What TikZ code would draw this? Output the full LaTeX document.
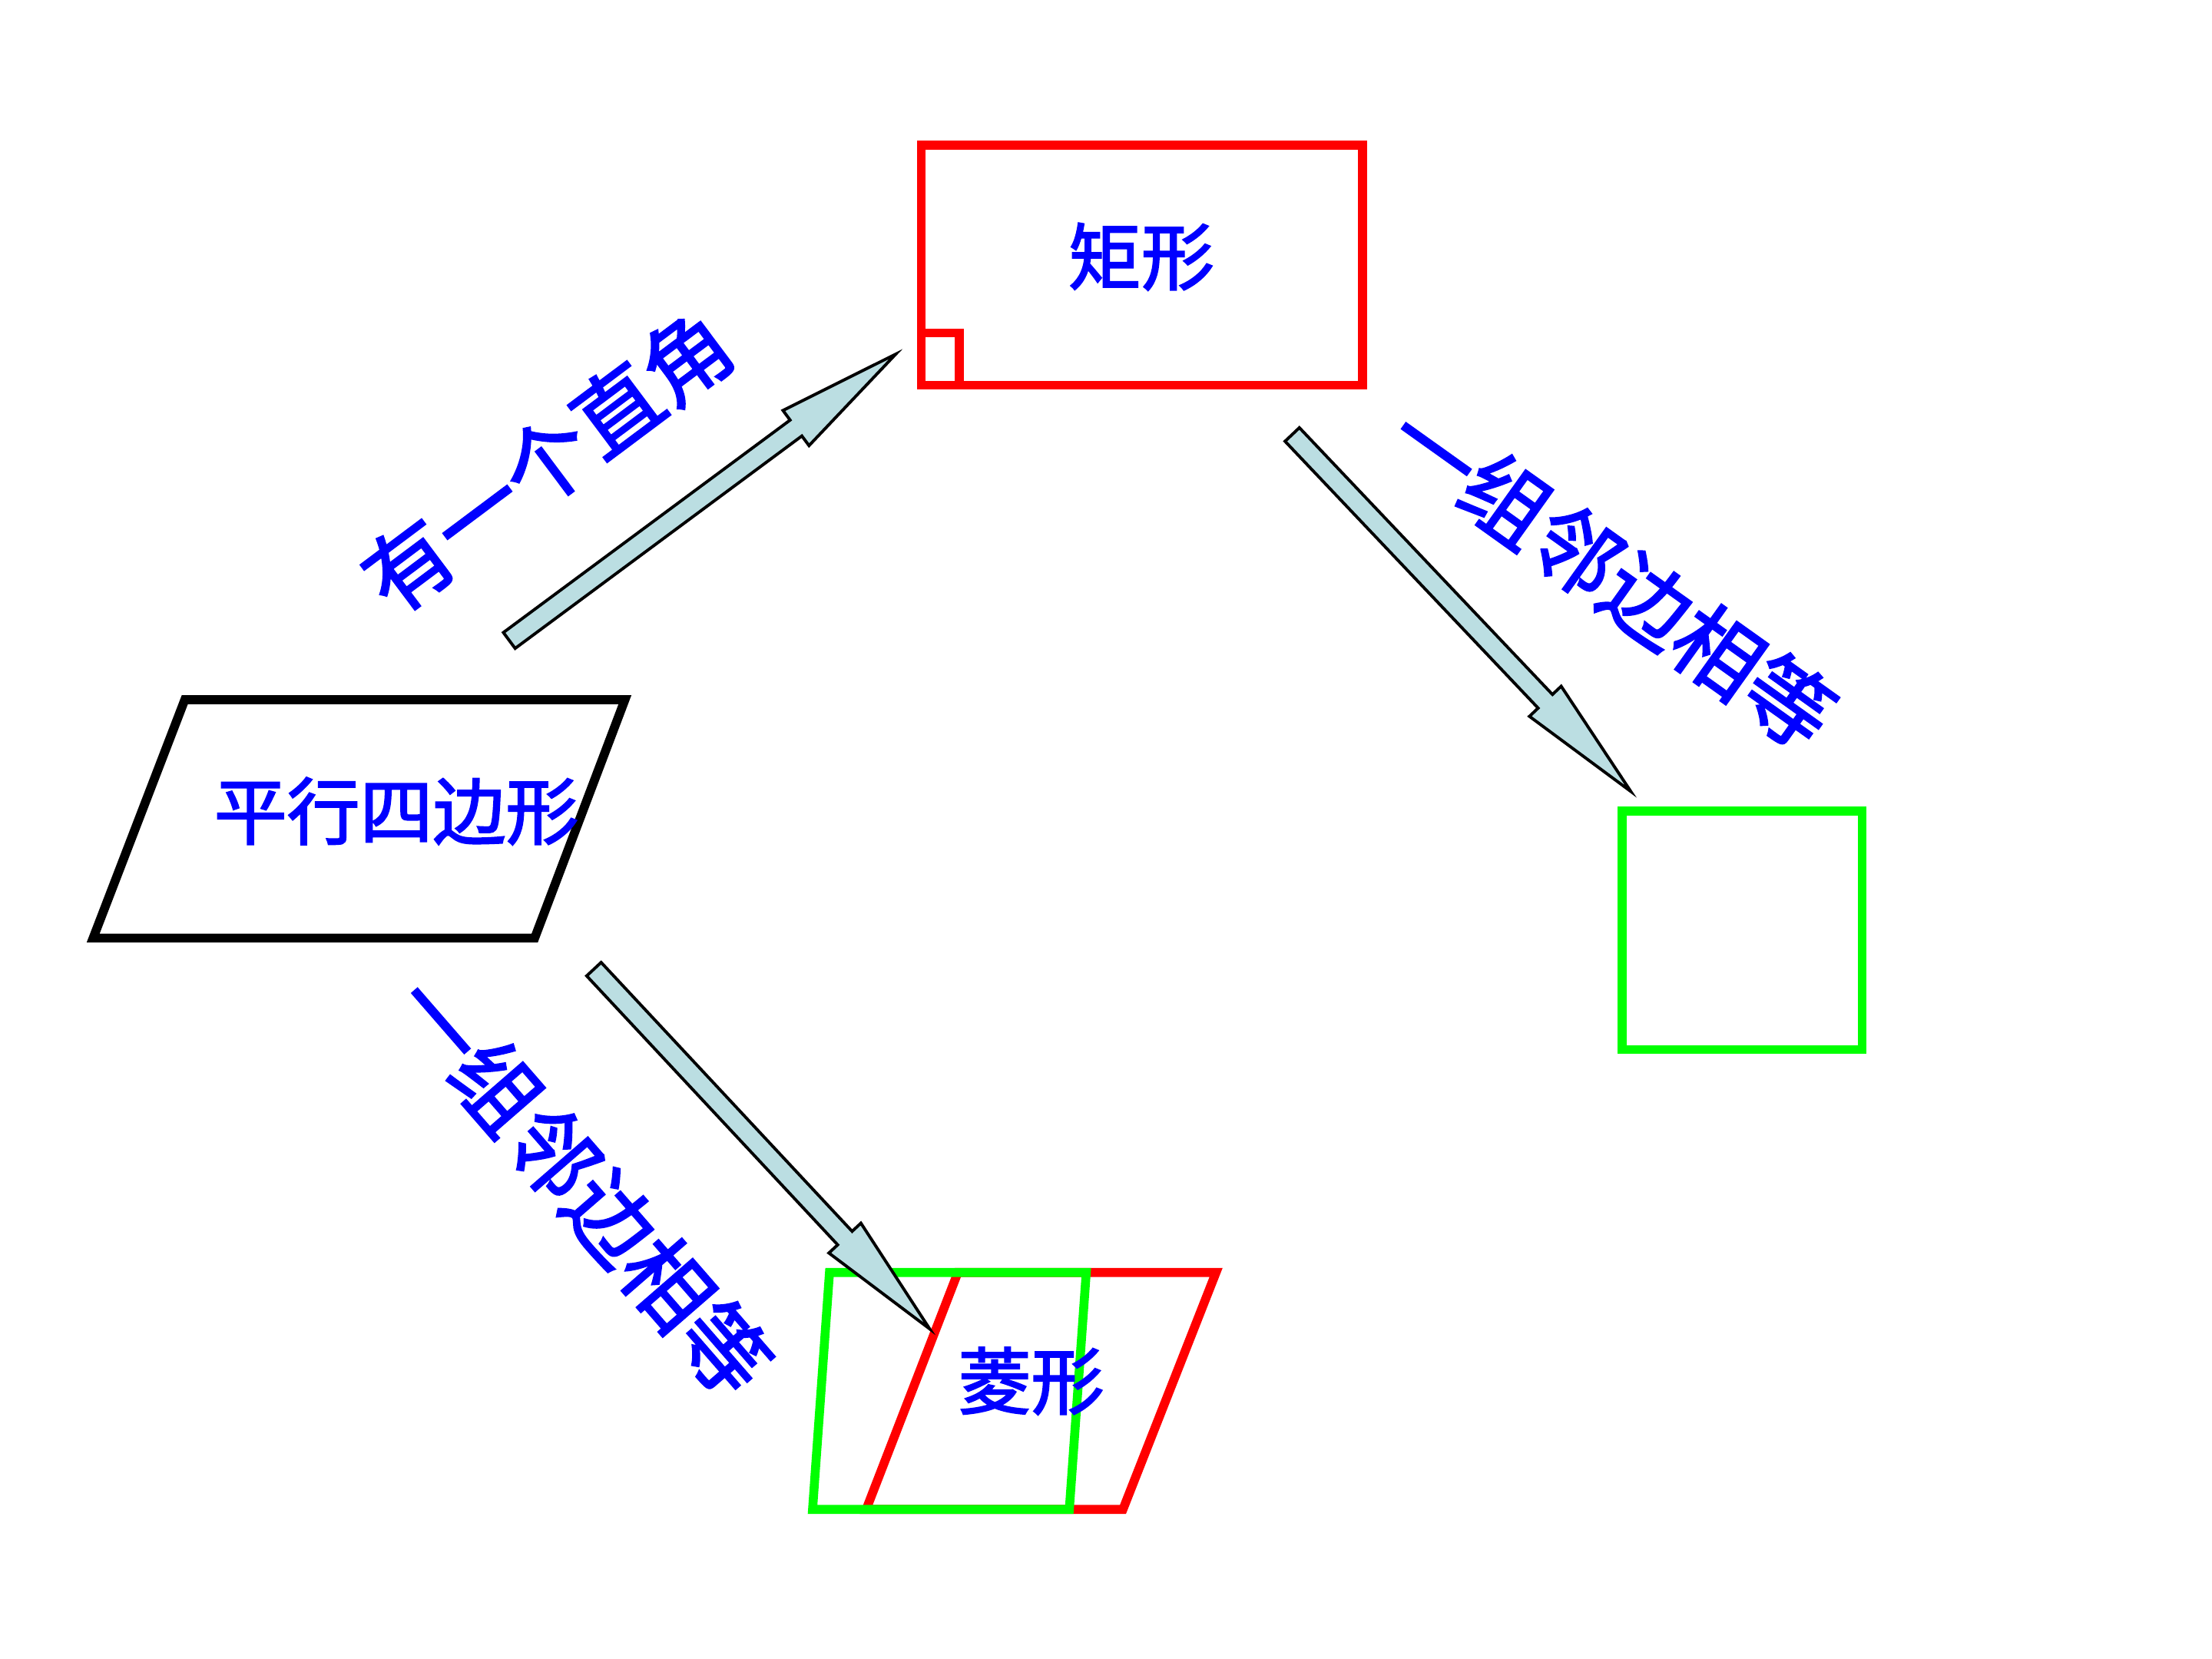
\documentclass[tikz,border=0pt]{standalone}
\usepackage{fontspec}
\usepackage{tikz}
\usetikzlibrary{calc}
\newfontfamily\cjk[FakeBold=2.2]{Noto Sans CJK SC}
\definecolor{shapeRed}{RGB}{255,0,0}
\definecolor{shapeGreen}{RGB}{0,255,0}
\definecolor{labelBlue}{RGB}{0,0,255}
\definecolor{arrowFill}{RGB}{187,222,226}

% block arrow from tail (#1) to tip (#2)
\newcommand{\blockarrow}[2]{%
  \coordinate (neck) at ($(#2)!0.88cm!(#1)$);
  \draw[bigarrow] ($(#1)!0.07cm!90:(#2)$) -- ($(neck)!0.07cm!90:(#2)$) -- ($(neck)!0.155cm!90:(#2)$) -- (#2)
    -- ($(neck)!0.155cm!-90:(#2)$) -- ($(neck)!0.07cm!-90:(#2)$) -- ($(#1)!0.07cm!-90:(#2)$) -- cycle;
}

\begin{document}
\begin{tikzpicture}[x=0.01cm, y=-0.01cm,
  outline/.style={line width=1.8pt, line join=miter},
  bigarrow/.style={draw=black, line width=0.6pt, fill=arrowFill, line join=miter},
  shapetext/.style={font=\cjk\fontsize{14.7}{16}\selectfont, text=labelBlue, inner sep=0pt},
  ruletext/.style={font=\cjk\fontsize{17.5}{20}\selectfont, text=labelBlue, inner sep=0pt}
]
\useasboundingbox (0,0) rectangle (1568,1176);

% 平行四边形
\draw[outline, draw=black] (131,496) -- (443,496) -- (379,665) -- (66,665) -- cycle;
\node[shapetext] (pgram) at (281,575) {平行四边形};

% 矩形
\draw[outline, draw=shapeRed] (653,103) rectangle (966,273);
\draw[outline, draw=shapeRed] (653,236) -| (680,273);
\node[shapetext] (rect) at (809,182) {矩形};

% 正方形
\draw[outline, draw=shapeGreen] (1150,575) rectangle (1320,744);

% 菱形
\draw[outline, draw=shapeRed] (679,902) -- (862,902) -- (796,1070) -- (614,1070) -- cycle;
\draw[outline, draw=shapeGreen] (588,902) -- (770,902) -- (758,1070) -- (576,1070) -- cycle;
\node[shapetext] (rhomb) at (731,979) {菱形};

\coordinate (up-tail) at (361,454);
\coordinate (up-tip) at (635,251);
\coordinate (right-tail) at (916,308);
\coordinate (right-tip) at (1156,561);
\coordinate (down-tail) at (421,687);
\coordinate (down-tip) at (659,942);
\foreach \a/\b in {up-tail/up-tip, right-tail/right-tip, down-tail/down-tip}
  \blockarrow{\a}{\b};

\node[ruletext, rotate=36.8] (rightangle) at (388,327) {有一个直角};
\node[ruletext, rotate=-35.5] (adjright) at (1143,408) {一组邻边相等};
\node[ruletext, rotate=-49] (adjleft) at (413,840) {一组邻边相等};
\end{tikzpicture}
\end{document}
